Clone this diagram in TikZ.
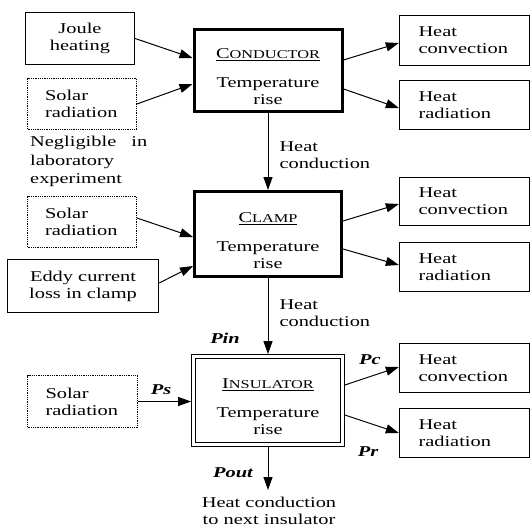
\documentclass[tikz,border=0pt]{standalone}
\usepackage{fontspec}
\setmainfont{Liberation Serif}[FakeStretch=1.36]
\usetikzlibrary{arrows.meta,calc}
\newcommand\mysc[2]{\underline{{\fontsize{15}{17}\selectfont #1}{\fontsize{12}{14}\selectfont #2}}}
\begin{document}
\begin{tikzpicture}[x=1pt,y=-1pt,
  every node/.style={font=\fontsize{15}{17}\selectfont, inner sep=0pt},
  plainbox/.style={draw, line width=1.3pt, align=left},
  rbox/.style={plainbox, text width=92pt, minimum width=130pt},
  dotbox/.style={draw, line width=0.9pt, dash pattern=on 0.9pt off 0.9pt, align=left, text width=74pt},
  mainbox/.style={draw, line width=3pt, align=center},
  insbox/.style={draw, line width=1.2pt, double, double distance=2.4pt, outer sep=2.4pt, align=center},
  arr/.style={-{Triangle[length=13pt,width=9pt]}, line width=1pt},
  plab/.style={font=\fontsize{15}{17}\selectfont\bfseries\itshape},
]
\useasboundingbox (0,0) rectangle (532,527);

% conductor row
\node[plainbox, align=center, minimum width=109pt, minimum height=52pt] (joule) at (80,38.5) {Joule\\heating};
\node[dotbox, minimum width=109pt, minimum height=51pt] (sol1) at (82,104) {Solar\\radiation};
\node[anchor=north west, align=left, font=\fontsize{15}{18.5}\selectfont] (negl) at (30,136) {\hbox to 117pt{Negligible\hfil in}\\laboratory\\experiment};
\node[mainbox, minimum width=148pt, minimum height=82pt] (cond) at (268,70.5) {\rule{0pt}{23pt}\mysc{C}{ONDUCTOR}\\[12pt]Temperature\\rise};
\node[rbox, minimum height=50pt] (conv1) at (464.5,40.5) {Heat\\convection};
\node[rbox, minimum height=49pt] (rad1) at (464.5,105) {Heat\\radiation};

\draw[arr] (joule.east) -- ([yshift=12.5pt]cond.west);
\draw[arr] (sol1.east) -- ([yshift=-13.5pt]cond.west);
\draw[arr] ([yshift=10.5pt]cond.east) -- ([yshift=-2.5pt]conv1.west);
\draw[arr] ([yshift=-18.5pt]cond.east) -- ([yshift=-3pt]rad1.west);

% clamp row
\node[mainbox, minimum width=147pt, minimum height=85pt] (clamp) at (268,234) {\rule{0pt}{23pt}\mysc{C}{LAMP}\\[12pt]Temperature\\rise};
\node[dotbox, minimum width=109pt, minimum height=51pt] (sol2) at (82,222) {Solar\\radiation};
\node[plainbox, align=center, minimum width=151pt, minimum height=53pt] (eddy) at (83,286) {Eddy current\\loss in clamp};
\node[rbox, minimum height=48pt] (conv2) at (464.5,201.5) {Heat\\convection};
\node[rbox, minimum height=49pt] (rad2) at (464.5,267) {Heat\\radiation};

\draw[arr] (cond.south) -- node[anchor=west, align=left, xshift=11pt, yshift=-4pt] (hc1) {Heat\\conduction} (clamp.north);
\draw[arr] ([yshift=4pt]sol2.east) -- ([yshift=-3pt]clamp.west);
\draw[arr] ([yshift=3pt]eddy.east) -- ([yshift=-32pt]clamp.west);
\draw[arr] ([yshift=13pt]clamp.east) -- ([yshift=-2.5pt]conv2.west);
\draw[arr] ([yshift=-15pt]clamp.east) -- ([yshift=2pt]rad2.west);

% insulator row
\node[insbox, minimum width=149pt, minimum height=88pt] (ins) at (268,400.5) {\rule{0pt}{23pt}\mysc{I}{NSULATOR}\\[12pt]Temperature\\rise};
\node[dotbox, minimum width=110pt, minimum height=52pt] (sol3) at (82.5,401.5) {Solar\\radiation};
\node[rbox, minimum height=49pt] (conv3) at (464.5,368) {Heat\\convection};
\node[rbox, minimum height=49pt] (rad3) at (464.5,433) {Heat\\radiation};
\node[align=center, anchor=north] (next) at (269,497) {Heat conduction\\to next insulator};

\draw[arr] (clamp.south) -- node[anchor=west, align=left, xshift=11pt, yshift=2.5pt] (hc2) {Heat\\conduction} (ins.north);
\draw[arr] (sol3.east) -- (sol3.east -| ins.west);
\draw[arr] ([yshift=15.5pt]ins.east) -- ([yshift=1pt]conv3.west);
\draw[arr] ([yshift=-14.5pt]ins.east) -- ([yshift=0pt]rad3.west);
\draw[arr] (ins.south) -- ([yshift=7pt]ins.south |- next.north);

\node[plab] (pin) at (225,338) {Pin};
\node[plab] (ps) at (161,390) {Ps};
\node[plab] (pc) at (370,360) {Pc};
\node[plab] (pr) at (368,452) {Pr};
\node[plab] (pout) at (233,473) {Pout};
\end{tikzpicture}
\end{document}
